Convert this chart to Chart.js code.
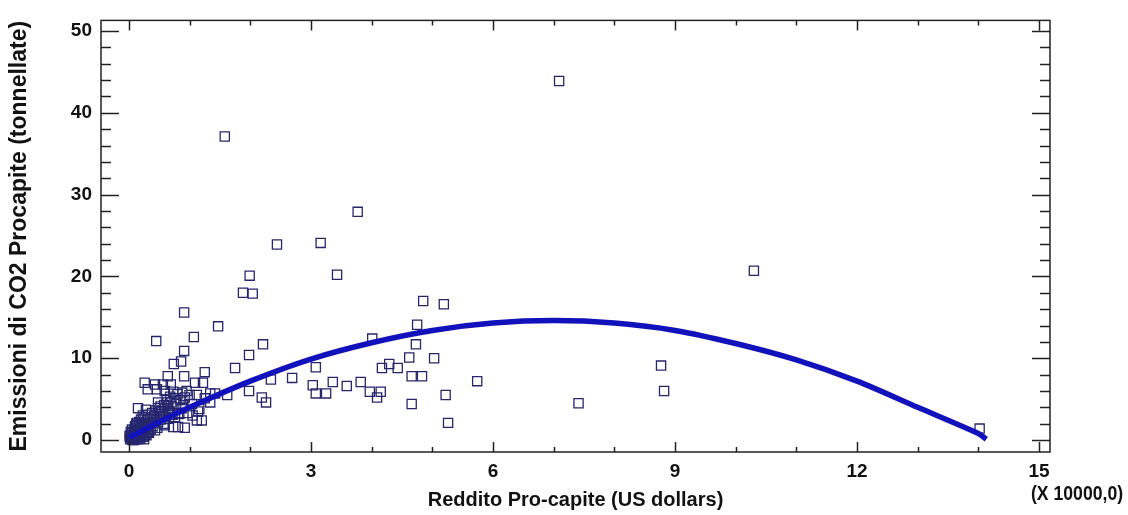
<!DOCTYPE html>
<html>
<head>
<meta charset="utf-8">
<script src="https://cdn.jsdelivr.net/npm/chart.js@4/dist/chart.umd.min.js"></script>
<style>
  body { margin: 0; background: #fff; }
  canvas { display: block; }
</style>
</head>
<body>
<canvas id="co2" width="1128" height="515"></canvas>
<script>
// reddito pro-capite (x 10000 US$) e emissioni CO2 pro-capite (t)
var redditoX = [
  7.09, 1.58, 3.77, 2.44, 3.16, 1.99, 3.43, 1.88, 2.04, 10.3, 4.85, 5.19, 0.91, 1.47, 0.45, 1.07, 2.21, 4.75,
  0.91, 1.98, 0.86, 0.74, 4.01, 4.73, 4.62, 5.03, 1.75, 1.25, 0.91, 0.64, 2.34, 2.69, 3.08, 4.17, 4.29, 4.43,
  4.66, 4.83, 5.74, 3.03, 3.36, 3.59, 3.82, 3.08, 3.25, 3.97, 4.15, 4.09, 5.22, 4.66, 5.26, 1.98, 2.19, 2.26,
  0.26, 0.43, 0.56, 0.69, 0.31, 0.46, 0.59, 0.73, 1.09, 1.22, 1.12, 1.34, 1.42, 1.62, 0.48, 0.63, 0.15, 0.64,
  0.87, 1.14, 1.04, 1.12, 1.20, 0.92, 0.13, 0.31, 0.48, 0.59, 0.56, 0.76, 1.25, 1.34, 7.41, 8.77, 8.82, 14.02,
  0.73, 0.81, 0.66, 0.81, 0.51, 0.96, 0.28, 0.23,
  0.02, 0.03, 0.04, 0.05, 0.06, 0.07, 0.08, 0.09, 0.10, 0.11, 0.12, 0.13, 0.14, 0.15, 0.16, 0.17, 0.18, 0.19,
  0.20, 0.21, 0.22, 0.23, 0.24, 0.25, 0.26, 0.27, 0.28, 0.30, 0.31, 0.32, 0.33, 0.35, 0.36, 0.38, 0.40, 0.42,
  0.44, 0.46, 0.48, 0.50, 0.52, 0.55, 0.58, 0.60, 0.62, 0.65, 0.68, 0.70, 0.75, 0.78, 0.80, 0.85, 0.88, 0.92,
  0.95, 1.00, 0.05, 0.08, 0.12, 0.15, 0.01, 0.03, 0.10, 0.20, 0.25,
  0.04, 0.06, 0.09, 0.11, 0.14, 0.17, 0.19, 0.22, 0.24, 0.27, 0.29, 0.33, 0.36, 0.39, 0.43, 0.47, 0.53, 0.57,
  0.66, 0.72, 0.83, 0.90, 1.05, 1.16
];
var emissioniY = [
  43.9, 37.1, 27.9, 23.9, 24.1, 20.1, 20.2, 18.0, 17.9, 20.7, 17.0, 16.6, 15.6, 13.9, 12.1, 12.6, 11.7, 14.1,
  10.9, 10.4, 9.6, 9.3, 12.4, 11.7, 10.1, 10.0, 8.8, 8.3, 7.8, 7.8, 7.4, 7.6, 8.9, 8.8, 9.3, 8.8,
  7.8, 7.8, 7.2, 6.7, 7.1, 6.6, 7.1, 5.7, 5.7, 5.9, 5.9, 5.2, 5.5, 4.4, 2.1, 6.0, 5.2, 4.6,
  7.0, 6.8, 6.8, 6.8, 6.2, 6.2, 6.0, 5.9, 7.0, 7.0, 5.5, 5.7, 5.7, 5.5, 4.6, 4.6, 3.9, 3.7,
  3.9, 3.5, 4.4, 2.4, 2.4, 1.5, 2.1, 1.8, 2.2, 1.8, 2.9, 2.8, 5.1, 4.6, 4.5, 9.1, 6.0, 1.4,
  1.6, 1.6, 3.3, 3.3, 2.8, 3.3, 3.7, 3.0,
  0.1, 0.3, 0.6, 0.2, 0.9, 0.4, 1.2, 0.7, 0.2, 1.5, 0.9, 0.5, 1.8, 1.1, 0.3, 2.2, 1.4, 0.8,
  2.5, 1.7, 1.0, 0.4, 2.0, 1.3, 2.8, 0.7, 1.6, 2.4, 1.0, 3.1, 1.9, 2.6, 1.3, 3.3, 2.2, 2.9,
  3.6, 2.5, 3.9, 3.2, 4.1, 3.5, 4.3, 3.9, 5.0, 4.2, 5.3, 4.6, 5.1, 4.4, 5.6, 4.9, 5.8, 5.2,
  6.0, 5.5, 1.3, 0.0, 2.0, 0.1, 0.5, 1.0, 1.7, 0.5, 0.1,
  0.3, 0.0, 0.5, 0.8, 0.6, 1.0, 0.2, 1.9, 0.9, 2.1, 0.6, 0.9, 2.0, 1.7, 1.2, 1.5, 2.5, 2.0,
  2.6, 3.1, 3.2, 4.3, 3.0, 3.8
];

// modello adattato
var modelloX = [0, 0.5, 1, 2, 3, 4, 5, 6, 7, 8, 9, 10, 11, 12, 13, 14, 14.13];
var modelloY = [0.3, 2.2, 4.0, 7.2, 9.9, 11.9, 13.4, 14.3, 14.6, 14.3, 13.4, 11.8, 9.8, 7.2, 4.0, 0.8, 0.1];

var xTicks = [0, 3, 6, 9, 12, 15];
var yTicks = [0, 10, 20, 30, 40, 50];

var sans = "'Liberation Sans', Arial, sans-serif";

var punti = [];
for (var i = 0; i < redditoX.length; i++) punti.push({ x: redditoX[i], y: emissioniY[i] });
var curva = [];
for (var j = 0; j < modelloX.length; j++) curva.push({ x: modelloX[j], y: modelloY[j] });

// cornice e tacche interne sui quattro lati
var cornice = {
  id: 'cornice',
  afterDraw: function(chart) {
    var c = chart.ctx, a = chart.chartArea;
    var sx = chart.scales.x, sy = chart.scales.y;
    c.save();
    c.strokeStyle = '#222';
    c.lineWidth = 1.5;
    c.strokeRect(a.left, a.top, a.right - a.left, a.bottom - a.top);
    c.beginPath();
    for (var v = 0; v <= 15; v += 1) {
      var px = Math.round(sx.getPixelForValue(v)) + 0.5;
      var len = (v % 3 === 0) ? 10 : 5;
      c.moveTo(px, a.bottom); c.lineTo(px, a.bottom - len);
      c.moveTo(px, a.top); c.lineTo(px, a.top + len);
    }
    for (var w = 0; w <= 50; w += 2) {
      var py = Math.round(sy.getPixelForValue(w)) + 0.5;
      var l2 = (w % 10 === 0) ? 18 : 10;
      c.moveTo(a.left, py); c.lineTo(a.left + l2, py);
      c.moveTo(a.right, py); c.lineTo(a.right - l2, py);
    }
    c.stroke();
    // etichetta del fattore di scala, un po' stretta come nell'originale
    c.fillStyle = '#111';
    c.font = 'bold 21px ' + sans;
    c.textAlign = 'center';
    c.textBaseline = 'middle';
    c.translate(1077, 494);
    c.scale(0.84, 1);
    c.fillText('(X 10000,0)', 0, 0);
    c.restore();
  }
};

var ctx = document.getElementById('co2').getContext('2d');
var chart = new Chart(ctx, {
  type: 'scatter',
  data: {
    datasets: [{
      type: 'line',
      data: curva,
      borderColor: '#1212bc',
      borderWidth: 5.5,
      pointRadius: 0,
      tension: 0.3,
      fill: false
    }, {
      data: punti,
      pointStyle: 'rect',
      pointRadius: 6.5,
      pointBorderWidth: 1.3,
      pointBorderColor: '#26266e',
      pointBackgroundColor: 'rgba(0,0,0,0)'
    }]
  },
  options: {
    responsive: false,
    animation: false,
    layout: { padding: { left: 0, right: 78, top: 19, bottom: 0 } },
    plugins: { legend: { display: false }, tooltip: { enabled: false } },
    scales: {
      x: {
        type: 'linear',
        min: -0.46,
        max: 15.18,
        grid: { display: false, drawTicks: false },
        border: { display: false },
        afterBuildTicks: function(s) { s.ticks = xTicks.map(function(v) { return { value: v }; }); },
        afterFit: function(s) { s.height = 63; },
        ticks: { padding: 8, color: '#111', font: { family: sans, size: 19, weight: 'bold' } },
        title: {
          display: true,
          text: 'Reddito Pro-capite (US dollars)',
          color: '#111',
          font: { family: sans, size: 20, weight: 'bold' },
          padding: { top: 0, bottom: 3 }
        }
      },
      y: {
        type: 'linear',
        min: -1.46,
        max: 51.3,
        grid: { display: false, drawTicks: false },
        border: { display: false },
        afterBuildTicks: function(s) { s.ticks = yTicks.map(function(v) { return { value: v }; }); },
        afterFit: function(s) { s.width = 101; },
        ticks: { padding: 9, color: '#111', font: { family: sans, size: 19, weight: 'bold' } },
        title: {
          display: true,
          text: 'Emissioni di CO2 Procapite (tonnellate)',
          color: '#111',
          font: { family: sans, size: 23, weight: 'bold' },
          padding: { top: 6, bottom: 0 }
        }
      }
    }
  },
  plugins: [cornice]
});
</script>
</body>
</html>
